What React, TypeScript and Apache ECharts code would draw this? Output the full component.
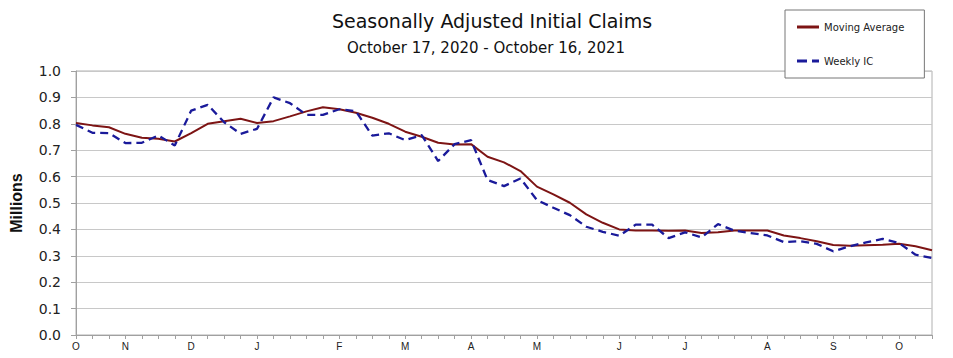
import React, { useEffect, useRef } from "react";
import * as echarts from "echarts";

const weekEnding: string[] = [
  "2020-10-17", "2020-10-24", "2020-10-31", "2020-11-07", "2020-11-14", "2020-11-21", "2020-11-28",
  "2020-12-05", "2020-12-12", "2020-12-19", "2020-12-26", "2021-01-02", "2021-01-09", "2021-01-16",
  "2021-01-23", "2021-01-30", "2021-02-06", "2021-02-13", "2021-02-20", "2021-02-27", "2021-03-06",
  "2021-03-13", "2021-03-20", "2021-03-27", "2021-04-03", "2021-04-10", "2021-04-17", "2021-04-24",
  "2021-05-01", "2021-05-08", "2021-05-15", "2021-05-22", "2021-05-29", "2021-06-05", "2021-06-12",
  "2021-06-19", "2021-06-26", "2021-07-03", "2021-07-10", "2021-07-17", "2021-07-24", "2021-07-31",
  "2021-08-07", "2021-08-14", "2021-08-21", "2021-08-28", "2021-09-04", "2021-09-11", "2021-09-18",
  "2021-09-25", "2021-10-02", "2021-10-09", "2021-10-16",
];

const monthLetters: string[] = ["J", "F", "M", "A", "M", "J", "J", "A", "S", "O", "N", "D"];

const movingAverage: number[] = [
  0.803, 0.794, 0.787, 0.762, 0.747, 0.743, 0.733, 0.765, 0.8, 0.81,
  0.819, 0.803, 0.81, 0.828, 0.847, 0.863, 0.855, 0.842, 0.823, 0.8,
  0.77, 0.751, 0.728, 0.722, 0.723, 0.675, 0.654, 0.621, 0.562, 0.533,
  0.501, 0.457, 0.425, 0.4, 0.396, 0.396, 0.395, 0.396, 0.386, 0.389,
  0.396, 0.396, 0.396, 0.377, 0.367, 0.355, 0.341, 0.338, 0.34, 0.342,
  0.346, 0.336, 0.321,
];

const weeklyIC: number[] = [
  0.796, 0.766, 0.765, 0.727, 0.728, 0.756, 0.718, 0.85, 0.872, 0.806,
  0.762, 0.781, 0.9, 0.878, 0.834, 0.834, 0.855, 0.848, 0.755, 0.764,
  0.738, 0.757, 0.659, 0.723, 0.738, 0.587, 0.564, 0.593, 0.511, 0.482,
  0.454, 0.41, 0.391, 0.376, 0.418, 0.418, 0.367, 0.389, 0.37, 0.42,
  0.395, 0.386, 0.377, 0.352, 0.355, 0.345, 0.317, 0.336, 0.351, 0.364,
  0.348, 0.304, 0.292,
];

const monthOf = (d: string) => parseInt(d.slice(5, 7), 10) - 1;
const isMonthStart = (i: number) =>
  i === 0 || monthOf(weekEnding[i]) !== monthOf(weekEnding[i - 1]);

export default function App() {
  const ref = useRef<HTMLDivElement>(null);
  useEffect(() => {
    if (!ref.current) return;
    const chart = echarts.init(ref.current, null, { renderer: "svg" });
    const font = "DejaVu Sans, Arial, sans-serif";
    const maColor = "#7d1414";
    const icColor = "#1a1a9a";
    chart.setOption({
      animation: false,
      backgroundColor: "#ffffff",
      title: [
        {
          text: "Seasonally Adjusted Initial Claims",
          left: 487,
          top: 6,
          textAlign: "center",
          textStyle: { fontFamily: font, fontSize: 19, fontWeight: "normal", color: "#111" },
        },
        {
          text: "October 17, 2020 - October 16, 2021",
          left: 481,
          top: 35,
          textAlign: "center",
          textStyle: { fontFamily: font, fontSize: 15, fontWeight: "normal", color: "#111" },
        },
      ],
      legend: {
        orient: "vertical",
        left: 785,
        top: 10,
        padding: [12, 20, 12, 12],
        itemGap: 24,
        itemWidth: 22,
        itemHeight: 3,
        borderColor: "#777",
        borderWidth: 1,
        backgroundColor: "#fff",
        textStyle: { fontFamily: font, fontSize: 10, color: "#222" },
        data: [
          { name: "Moving Average", icon: "rect", itemStyle: { color: maColor } },
          {
            name: "Weekly IC",
            icon: "path://M0,0h10v3h-10z M15,0h7v3h-7z",
            itemStyle: { color: icColor },
          },
        ],
      },
      grid: { left: 75, right: 21, top: 71, bottom: 23, show: true, borderColor: "#b0b0b0", borderWidth: 1 },
      xAxis: {
        type: "category",
        boundaryGap: false,
        data: weekEnding,
        axisLine: { lineStyle: { color: "#a0a0a0", width: 1 } },
        axisTick: { show: true, interval: 0, length: 4, lineStyle: { color: "#a0a0a0" } },
        axisLabel: {
          interval: (i: number) => isMonthStart(i),
          formatter: (v: string) => monthLetters[monthOf(v)],
          fontFamily: "Liberation Sans Narrow, Arial Narrow, Arial, sans-serif",
          fontSize: 10,
          color: "#222",
          margin: 6,
        },
        splitLine: { show: false },
      },
      yAxis: {
        type: "value",
        min: 0,
        max: 1,
        interval: 0.1,
        name: "Millions",
        nameLocation: "middle",
        nameGap: 52,
        nameTextStyle: { fontFamily: "Liberation Sans, Arial, sans-serif", fontSize: 16, fontWeight: "bold", color: "#111" },
        axisLine: { show: true, lineStyle: { color: "#a0a0a0", width: 1 } },
        axisTick: { show: true, length: 5, lineStyle: { color: "#a0a0a0" } },
        axisLabel: {
          formatter: (v: number) => v.toFixed(1),
          fontFamily: font,
          fontSize: 14,
          color: "#222",
          margin: 15,
        },
        splitLine: { lineStyle: { color: "#c8c8c8", width: 1 } },
      },
      series: [
        {
          name: "Moving Average",
          type: "line",
          data: movingAverage,
          symbol: "none",
          lineStyle: { color: maColor, width: 2 },
          itemStyle: { color: maColor },
          z: 3,
        },
        {
          name: "Weekly IC",
          type: "line",
          data: weeklyIC,
          symbol: "none",
          lineStyle: { color: icColor, width: 2.3, type: [8, 5] },
          itemStyle: { color: icColor },
          z: 4,
        },
      ],
    });
    return () => chart.dispose();
  }, []);
  return (
    <div
      ref={ref}
      style={{ position: "fixed", left: 0, top: 0, width: 953, height: 358 }}
    />
  );
}
